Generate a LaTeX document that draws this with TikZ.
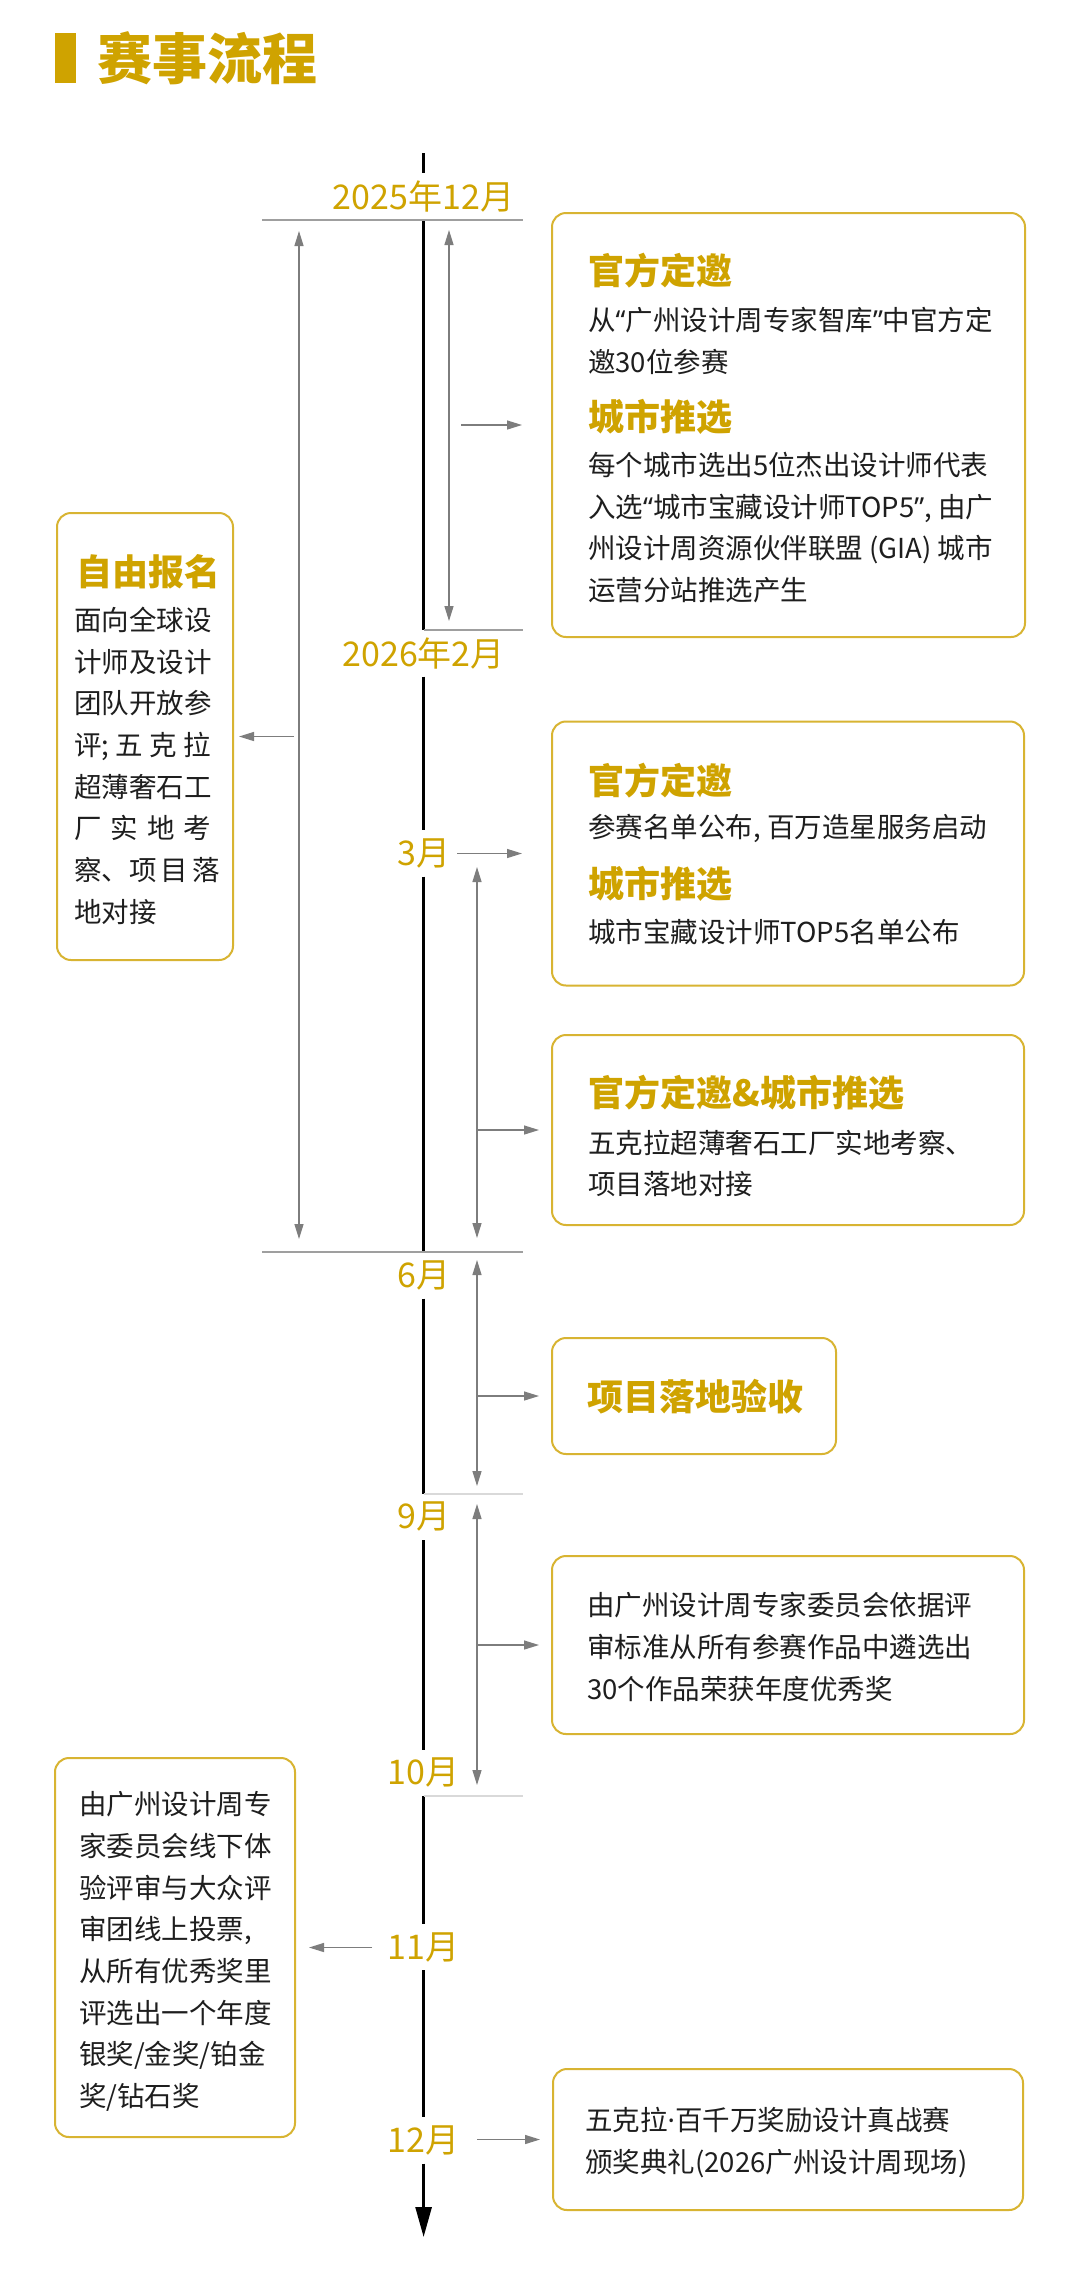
\documentclass[tikz,border=0pt]{standalone}
\usepackage{fontspec}
\setmainfont{Noto Sans CJK SC}
\newfontfamily\latinfont{Noto Sans}
\newcommand\openq{{\latinfont “}}
\newcommand\closeq{{\latinfont ”}}
\newcommand\middot{{\latinfont ·}}
\usepackage{xcolor}
\usetikzlibrary{arrows.meta}
\definecolor{brandgold}{RGB}{207,163,0}
\definecolor{boxgold}{RGB}{216,180,50}
\definecolor{arrowgray}{RGB}{125,125,125}
\definecolor{textdark}{RGB}{30,30,30}

\begin{document}
\begin{tikzpicture}[x=1pt, y=-1pt,
    mainline/.style={line width=2.7pt, black},
    rangearrow/.style={line width=1.3pt, arrowgray, {Triangle[length=15pt,width=9pt]}-{Triangle[length=15pt,width=9pt]}},
    pointarrow/.style={line width=1.3pt, arrowgray, -{Triangle[length=15pt,width=9pt]}},
    sepline/.style={line width=1.3pt, gray!75},
    fadeline/.style={line width=1.3pt, gray!30},
    month/.style={text=brandgold, font=\fontsize{34}{40}\selectfont, inner sep=0pt, minimum height=46pt},
    card/.style={draw=boxgold, line width=2pt, rounded corners=14pt, fill=white, inner sep=0pt},
    cardhead/.style={anchor=west, inner sep=0pt, text=brandgold, font=\fontsize{36}{44}\selectfont\bfseries},
    cardbody/.style={anchor=west, inner sep=0pt, align=left, text=textdark, font=\fontsize{27.5}{41.7}\selectfont}]

    % Page
    \fill[white] (0,0) rectangle (1080,2279);
    \useasboundingbox (0,0) rectangle (1080,2279);

    % Title
    \fill[brandgold] (55,33) rectangle (76,83);
    \node[anchor=west, inner sep=0pt, text=brandgold, font=\fontsize{55}{60}\selectfont\bfseries] (title) at (97,58) {赛事流程};

    % Timeline labels
    \node[month] (m2512) at (423.6,196.5) {2025年12月};
    \node[month] (m2602) at (423.6,653.3) {2026年2月};
    \node[month] (m03) at (423.6,853.3) {3月};
    \node[month] (m06) at (423.6,1275.5) {6月};
    \node[month] (m09) at (423.6,1516.8) {9月};
    \node[month] (m10) at (423.6,1772.8) {10月};
    \node[month] (m11) at (423.6,1947) {11月};
    \node[month] (m12) at (423.6,2140.5) {12月};

    % Main axis
    \coordinate (top) at (423.6,153);
    \coordinate (bottom) at (423.6,2237);
    \draw[mainline] (top) -- (m2512.north);
    \draw[mainline] (m2512.south) -- (m2602.north);
    \draw[mainline] (m2602.south) -- (m03.north);
    \draw[mainline] (m03.south) -- (m06.north);
    \draw[mainline] (m06.south) -- (m09.north);
    \draw[mainline] (m09.south) -- (m10.north);
    \draw[mainline] (m10.south) -- (m11.north);
    \draw[mainline] (m11.south) -- (m12.north);
    \draw[mainline, -{Triangle[length=30pt,width=16pt]}] (m12.south) -- (bottom);

    % Period lines
    \coordinate (s1a) at (262,220);   \coordinate (s1b) at (523,220);
    \coordinate (s2a) at (423.6,630); \coordinate (s2b) at (523,630);
    \coordinate (s3a) at (262,1252);  \coordinate (s3b) at (523,1252);
    \coordinate (s4a) at (423.6,1494); \coordinate (s4b) at (523,1494);
    \coordinate (s5a) at (423.6,1796); \coordinate (s5b) at (523,1796);
    \draw[sepline] (s1a) -- (s1b);
    \draw[sepline] (s2a) -- (s2b);
    \draw[sepline] (s3a) -- (s3b);
    \draw[fadeline] (s4a) -- (s4b);
    \draw[fadeline] (s5a) -- (s5b);

    % Period spans
    \coordinate (r1a) at (299,231);  \coordinate (r1b) at (299,1239);
    \coordinate (r2a) at (449,230);  \coordinate (r2b) at (449,621);
    \coordinate (r3a) at (477,867);  \coordinate (r3b) at (477,1238);
    \coordinate (r4a) at (477,1260); \coordinate (r4b) at (477,1486);
    \coordinate (r5a) at (477,1504); \coordinate (r5b) at (477,1785);
    \draw[rangearrow] (r1a) -- (r1b);
    \draw[rangearrow] (r2a) -- (r2b);
    \draw[rangearrow] (r3a) -- (r3b);
    \draw[rangearrow] (r4a) -- (r4b);
    \draw[rangearrow] (r5a) -- (r5b);

    % Cards, right side
    \node[card, minimum width=473pt, minimum height=424pt] (invite1) at (788.5,425) {};
    \node[card, minimum width=472pt, minimum height=264pt] (invite2) at (788,853.5) {};
    \node[card, minimum width=472pt, minimum height=190pt] (invite3) at (788,1130) {};
    \node[card, minimum width=284pt, minimum height=116pt] (accept) at (694,1396) {};
    \node[card, minimum width=472pt, minimum height=178pt] (select) at (788,1645) {};
    \node[card, minimum width=470pt, minimum height=141pt] (award) at (788,2139.5) {};

    % Cards, left side
    \node[card, minimum width=176pt, minimum height=447pt] (signup) at (145,736.5) {};
    \node[card, minimum width=240pt, minimum height=379pt] (vote) at (175,1947.5) {};

    % Card texts
    \node[cardhead] (invite1h1) at (588,271) {官方定邀};
    \node[cardbody] (invite1t1) at (588,340.8) {从\openq 广州设计周专家智库\closeq 中官方定\\邀30位参赛};
    \node[cardhead] (invite1h2) at (588,416.7) {城市推选};
    \node[cardbody] (invite1t2) at (588,527.5) {每个城市选出5位杰出设计师代表\\入选\openq 城市宝藏设计师TOP5\closeq, 由广\\州设计周资源伙伴联盟 (GIA) 城市\\运营分站推选产生};

    \node[cardhead] (invite2h1) at (588,780.4) {官方定邀};
    \node[cardbody] (invite2t1) at (588,828.6) {参赛名单公布, 百万造星服务启动};
    \node[cardhead] (invite2h2) at (588,884) {城市推选};
    \node[cardbody] (invite2t2) at (588,932) {城市宝藏设计师TOP5名单公布};

    \node[cardhead] (invite3h) at (588,1092.9) {官方定邀\&城市推选};
    \node[cardbody] (invite3t) at (588,1163.5) {五克拉超薄奢石工厂实地考察、\\项目落地对接};

    \node[cardhead] (accepth) at (587,1397) {项目落地验收};

    \node[cardbody] (selectt) at (587,1647) {由广州设计周专家委员会依据评\\审标准从所有参赛作品中遴选出\\30个作品荣获年度优秀奖};

    \node[cardbody] (awardt) at (585,2142.2) {五克拉\middot 百千万奖励设计真战赛\\颁奖典礼(2026广州设计周现场)};

    \node[cardhead] (signuph) at (76,571.7) {自由报名};
    \node[cardbody] (signupt) at (74,765.8) {面向全球设\\计师及设计\\团队开放参\\\makebox[137pt][s]{评; 五 克 拉}\\超薄奢石工\\\makebox[137pt][s]{厂 实 地 考}\\\makebox[137pt][s]{察、项 目 落}\\地对接};

    \node[cardbody] (votet) at (79,1951.5) {由广州设计周专\\家委员会线下体\\验评审与大众评\\审团线上投票,\\从所有优秀奖里\\评选出一个年度\\银奖/金奖/铂金\\奖/钻石奖};

    % Pointers to cards
    \coordinate (p1) at (461,425);
    \coordinate (p2) at (457,853.5);
    \coordinate (p3) at (478,1130);
    \coordinate (p4) at (478,1396);
    \coordinate (p5) at (478,1645);
    \coordinate (p6) at (477,2139.5);
    \coordinate (q1) at (294,736.5);
    \coordinate (q2) at (372,1947.5);
    \draw[pointarrow, shorten >=29pt] (p1) -- (p1 -| invite1.west);
    \draw[pointarrow, shorten >=29pt] (p2) -- (p2 -| invite2.west);
    \draw[pointarrow, shorten >=12pt] (p3) -- (p3 -| invite3.west);
    \draw[pointarrow, shorten >=12pt] (p4) -- (p4 -| accept.west);
    \draw[pointarrow, shorten >=12pt] (p5) -- (p5 -| select.west);
    \draw[pointarrow, shorten >=12pt] (p6) -- (p6 -| award.west);
    \draw[pointarrow, shorten >=5pt] (q1) -- (q1 -| signup.east);
    \draw[pointarrow, shorten >=13pt] (q2) -- (q2 -| vote.east);
\end{tikzpicture}
\end{document}
